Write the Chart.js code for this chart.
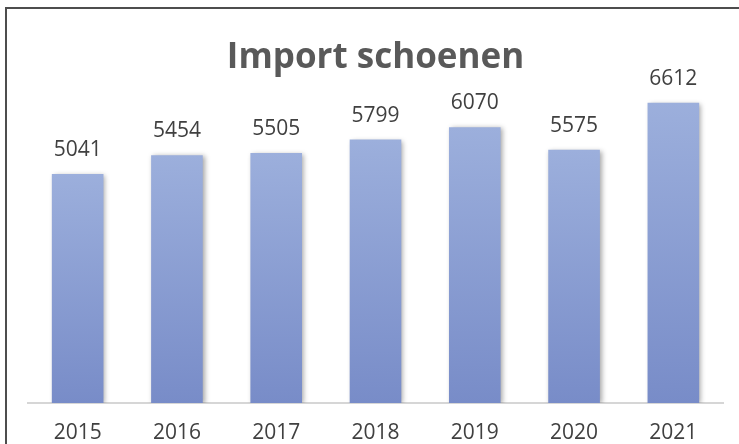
<!DOCTYPE html>
<html>
<head>
<meta charset="utf-8">
<script src="https://cdn.jsdelivr.net/npm/chart.js@4.4.1/dist/chart.umd.min.js"></script>
<style>
    body { margin: 0; background: #fff; overflow: hidden; }
    #importChart { display: block; }
</style>
</head>
<body>
<canvas id="importChart" width="739" height="444"></canvas>
<script>
const years = ['2015', '2016', '2017', '2018', '2019', '2020', '2021'];
const importValues = [5041, 5454, 5505, 5799, 6070, 5575, 6612];
const axisMax = 7000;

// per bar gradient, light on top, darker at the base
const barGradient = (context) => {
    const chart = context.chart;
    const { ctx, chartArea, scales } = chart;
    if (!chartArea) return '#8c9fd4';
    const value = context.raw;
    const top = scales.y.getPixelForValue(value);
    const bottom = scales.y.getPixelForValue(0);
    const g = ctx.createLinearGradient(0, top, 0, bottom);
    g.addColorStop(0, '#9cafdc');
    g.addColorStop(1, '#788cc8');
    return g;
};

// only the top and left edge of the chart frame are in view
const chartFrame = {
    id: 'chartFrame',
    beforeDraw: (chart) => {
        const ctx = chart.ctx;
        ctx.save();
        ctx.strokeStyle = '#4d4d4d';
        ctx.lineWidth = 2;
        ctx.beginPath();
        ctx.moveTo(6, chart.height);
        ctx.lineTo(6, 8);
        ctx.lineTo(chart.width, 8);
        ctx.stroke();
        ctx.restore();
    }
};

const barShadow = {
    id: 'barShadow',
    beforeDatasetDraw: (chart) => {
        const ctx = chart.ctx;
        ctx.save();
        ctx.shadowColor = 'rgba(0, 0, 0, 0.35)';
        ctx.shadowBlur = 5;
        ctx.shadowOffsetX = 2;
        ctx.shadowOffsetY = 1;
    },
    afterDatasetDraw: (chart) => {
        chart.ctx.restore();
    }
};

const valueLabels = {
    id: 'valueLabels',
    afterDatasetsDraw: (chart) => {
        const ctx = chart.ctx;
        const meta = chart.getDatasetMeta(0);
        ctx.save();
        ctx.font = '21px "Open Sans"';
        ctx.fillStyle = '#404040';
        ctx.textAlign = 'center';
        ctx.textBaseline = 'middle';
        meta.data.forEach((bar, i) => {
            ctx.fillText(String(importValues[i]), bar.x, bar.y - 24);
        });
        ctx.restore();
    }
};

const ctx = document.getElementById('importChart').getContext('2d');
new Chart(ctx, {
    type: 'bar',
    data: {
        labels: years,
        datasets: [{
            label: 'Import schoenen',
            data: importValues,
            backgroundColor: barGradient,
            borderWidth: 0,
            categoryPercentage: 0.52,
            barPercentage: 1
        }]
    },
    options: {
        responsive: false,
        animation: false,
        layout: {
            padding: { left: 28, right: 16, top: 0, bottom: 0 }
        },
        plugins: {
            legend: { display: false },
            tooltip: { enabled: false },
            title: {
                display: true,
                text: 'Import schoenen',
                color: '#595959',
                font: { family: 'Open Sans', size: 35, weight: 'bold', lineHeight: 1.2 },
                padding: { top: 37, bottom: 6 }
            }
        },
        scales: {
            x: {
                grid: { display: false, drawTicks: false },
                border: { display: true, color: '#d6d6d6', width: 2 },
                ticks: {
                    color: '#404040',
                    font: { family: 'Open Sans', size: 21, lineHeight: 1 },
                    padding: 20
                },
                afterFit: (scale) => {
                    scale.height = 41;
                }
            },
            y: {
                display: false,
                min: 0,
                max: axisMax
            }
        }
    },
    plugins: [chartFrame, barShadow, valueLabels]
});
</script>
</body>
</html>
